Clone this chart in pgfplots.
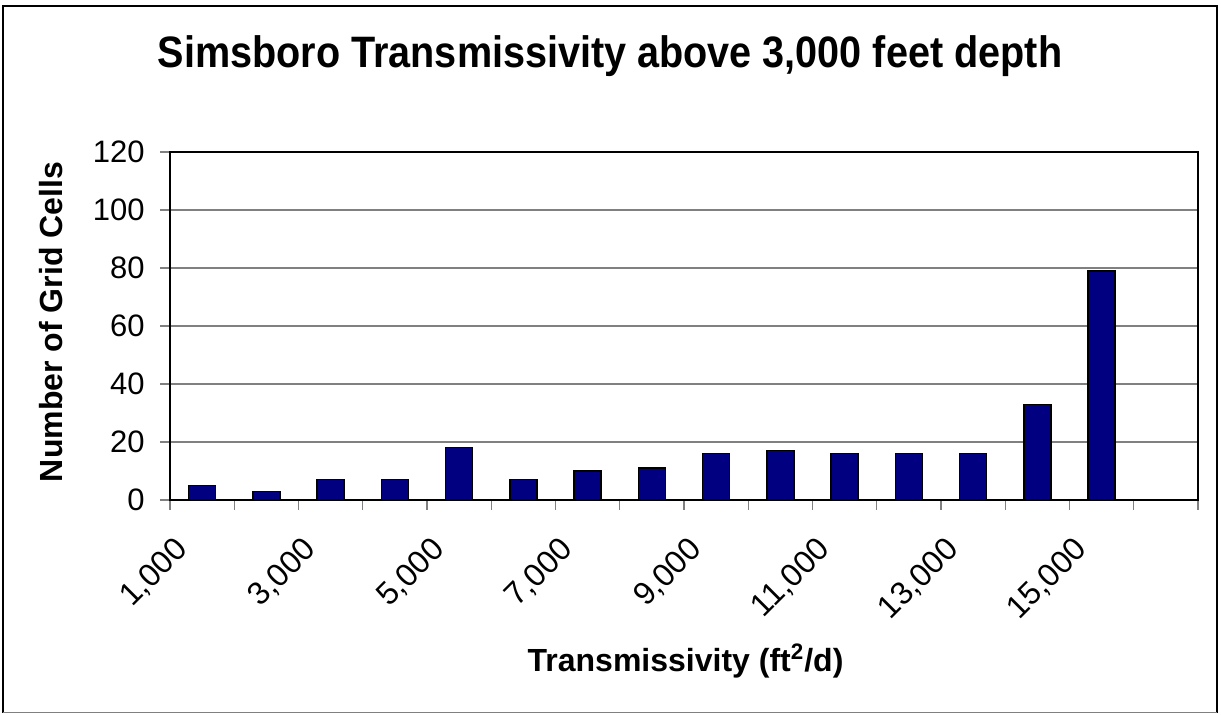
\documentclass[border=0pt]{standalone}
\usepackage{fontspec}
\setmainfont{Liberation Sans}
\newfontfamily\titlefont{Liberation Sans}[FakeStretch=0.9]
\usepackage{pgfplots}
\pgfplotsset{compat=1.18}
\definecolor{barblue}{RGB}{0,0,128}
\definecolor{gridgray}{RGB}{128,128,128}
\begin{document}
\begin{tikzpicture}[x=1pt,y=1pt]
\useasboundingbox (0,0) rectangle (610.5,357.5);
\begin{axis}[
  scale only axis, width=514pt, height=174pt,
  anchor=south west, at={(85pt,107.5pt)},
  xmin=0, xmax=16, ymin=0, ymax=120,
  ytick={0,20,...,120},
  ymajorgrids, major grid style={gridgray, line width=0.6pt},
  axis line style={black, line width=1pt},
  tick align=outside, major tick length=5pt, minor tick length=5pt,
  tick style={gridgray, line width=0.6pt},
  xtick={0.5,2.5,...,14.5},
  xticklabels={1{,}000,3{,}000,5{,}000,7{,}000,9{,}000,11{,}000,13{,}000,15{,}000},
  major x tick style={draw=none},
  minor xtick={0,1,...,16},
  ytick pos=left, xtick pos=bottom,
  ticklabel style={font=\fontsize{15.5}{18}\selectfont},
  xticklabel style={xshift=-14.5pt, yshift=-12.5pt, rotate=45, anchor=north east, inner sep=0pt,
    font=\fontsize{16}{19}\selectfont},
  yticklabel style={anchor=east, inner sep=0pt, xshift=-7.5pt},
  /pgf/number format/assume math mode=true,
  title={Simsboro Transmissivity above 3,000 feet depth},
  title style={at={(axis description cs:0.428,1.2069)}, anchor=base, inner sep=0pt, yshift=0pt,
    font=\titlefont\fontsize{22}{26}\selectfont\bfseries},
  xlabel={Transmissivity (ft\textsuperscript{2}/d)},
  xlabel style={at={(axis description cs:0.5015,-0.4934)}, anchor=base, inner sep=0pt,
    font=\fontsize{16}{19}\selectfont\bfseries},
  ylabel={Number of Grid Cells},
  ylabel style={at={(axis description cs:-0.1041,0.5115)}, anchor=base, inner sep=0pt,
    font=\fontsize{16}{19}\selectfont\bfseries},
]
\addplot[ybar, bar width=13.5pt, fill=barblue, draw=black, line width=0.7pt]
  coordinates {(0.5,5) (1.5,3) (2.5,7) (3.5,7) (4.5,18) (5.5,7) (6.5,10) (7.5,11)
               (8.5,16) (9.5,17) (10.5,16) (11.5,16) (12.5,16) (13.5,33) (14.5,79)};
\end{axis}
\draw[black, line width=1pt] (1.6,1.2) -- (1.6,354.5) -- (608.6,354.5) -- (608.6,1.2);
\draw[gridgray, line width=0.6pt] (1.6,1.2) -- (608.6,1.2);
\end{tikzpicture}
\end{document}
